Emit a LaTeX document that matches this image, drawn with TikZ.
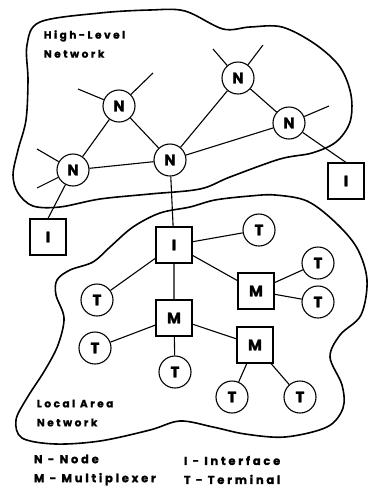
\documentclass[tikz,border=0pt]{standalone}
\usepackage{fontspec}
\setmainfont{Poppins}[BoldFont={Poppins Bold},BoldFeatures={FakeBold=1.5}]
\newfontfamily\lblfont[LetterSpace=24,BoldFont={Poppins Bold},BoldFeatures={FakeBold=1.2}]{Poppins}
\begin{document}
\begin{tikzpicture}[x=1pt,y=-1pt,line width=1.1pt,
    nd/.style={circle,draw,fill=white,minimum size=32pt,inner sep=0pt,font=\fontsize{15}{15}\selectfont\bfseries},
    bx/.style={rectangle,draw,fill=white,minimum size=36pt,inner sep=0pt,font=\fontsize{15}{15}\selectfont\bfseries},
    lbl/.style={anchor=west,align=left,font=\lblfont\fontsize{10.5}{19}\selectfont\bfseries},
    key/.style={lbl,font=\lblfont\fontsize{11.5}{19}\selectfont\bfseries}]
  \useasboundingbox (0,0) rectangle (371,491);

  % the two networks
  \draw[line width=1.6pt] plot[smooth cycle,tension=0.55] coordinates {
    (40,22) (100,13) (150,10) (185,11) (223,29) (250,27) (282,27) (315,44)
    (340,67) (351,95) (350,122) (336,142) (312,153) (280,159) (230,177)
    (200,189) (150,194) (100,199) (60,207) (33,206) (18,193) (13,175)
    (18,150) (26,120) (28,80) (27,45)};
  \draw[line width=1.6pt] plot[smooth cycle,tension=0.55] coordinates {
    (93,262) (110,247) (133,227) (160,213) (190,207) (215,200) (250,196)
    (275,195) (307,201) (335,222) (357,248) (367,280) (361,315) (340,335)
    (330,357) (342,385) (343,408) (327,427) (285,437) (245,434) (213,427)
    (180,421) (150,430) (100,441) (55,444) (22,438) (16,420) (27,398)
    (45,370) (58,345) (64,318) (56,295) (57,280) (70,270)};

  % high-level nodes
  \node[nd] (N1) at (119,106) {N};
  \node[nd] (N2) at (238,78) {N};
  \node[nd] (N3) at (289,123) {N};
  \node[nd] (N4) at (73,170) {N};
  \node[nd] (N5) at (170,160) {N};
  \node[bx] (Il) at (48,237) {I};
  \node[bx] (Ir) at (346,181) {I};

  % local area nodes
  \node[bx] (Ic) at (174,245) {I};
  \node[bx] (Mc) at (174,318) {M};
  \node[bx] (Mr) at (256,291) {M};
  \node[bx] (Mb) at (255,345) {M};
  \node[nd] (T1) at (259,230) {T};
  \node[nd] (T2) at (318,263) {T};
  \node[nd] (T3) at (318,302) {T};
  \node[nd] (T4) at (97,300) {T};
  \node[nd] (T5) at (95,348) {T};
  \node[nd] (T6) at (175,372) {T};
  \node[nd] (T7) at (232,397) {T};
  \node[nd] (T8) at (300,397) {T};

  \draw (N4) -- (N1) -- (N5) -- (N4);
  \draw (N5) -- (N2) -- (N3) -- (N5);
  \draw (N3) -- (Ir.north);
  \draw (N4) -- (Il.north);
  \draw (N5) -- (Ic);
  \draw (Ic) -- (T1) (Ic) -- (T4) (Ic) -- (Mr) (Ic) -- (Mc);
  \draw (Mr) -- (T2) (Mr) -- (T3);
  \draw (Mc) -- (T5) (Mc) -- (T6) (Mc) -- (Mb);
  \draw (Mb) -- (T7) (Mb) -- (T8);

  % links leaving the picture
  \draw (N1) -- +(-41,-17) (N1) -- +(34,-33);
  \draw (N2) -- +(-25,-29) (N2) -- +(25,-33);
  \draw (N3) -- +(40,-17);
  \draw (N4) -- +(-36,-21) (N4) -- +(-36,18);

  \node[lbl] (hl) at (40,44) {High-Level\\Network};
  \node[lbl] (la) at (33,413) {Local Area\\Network};
  \node[key] (k1) at (30,470) {N - Node\\M - Multiplexer};
  \node[key] (k2) at (180,470) {I - Interface\\T - Terminal};
\end{tikzpicture}
\end{document}
